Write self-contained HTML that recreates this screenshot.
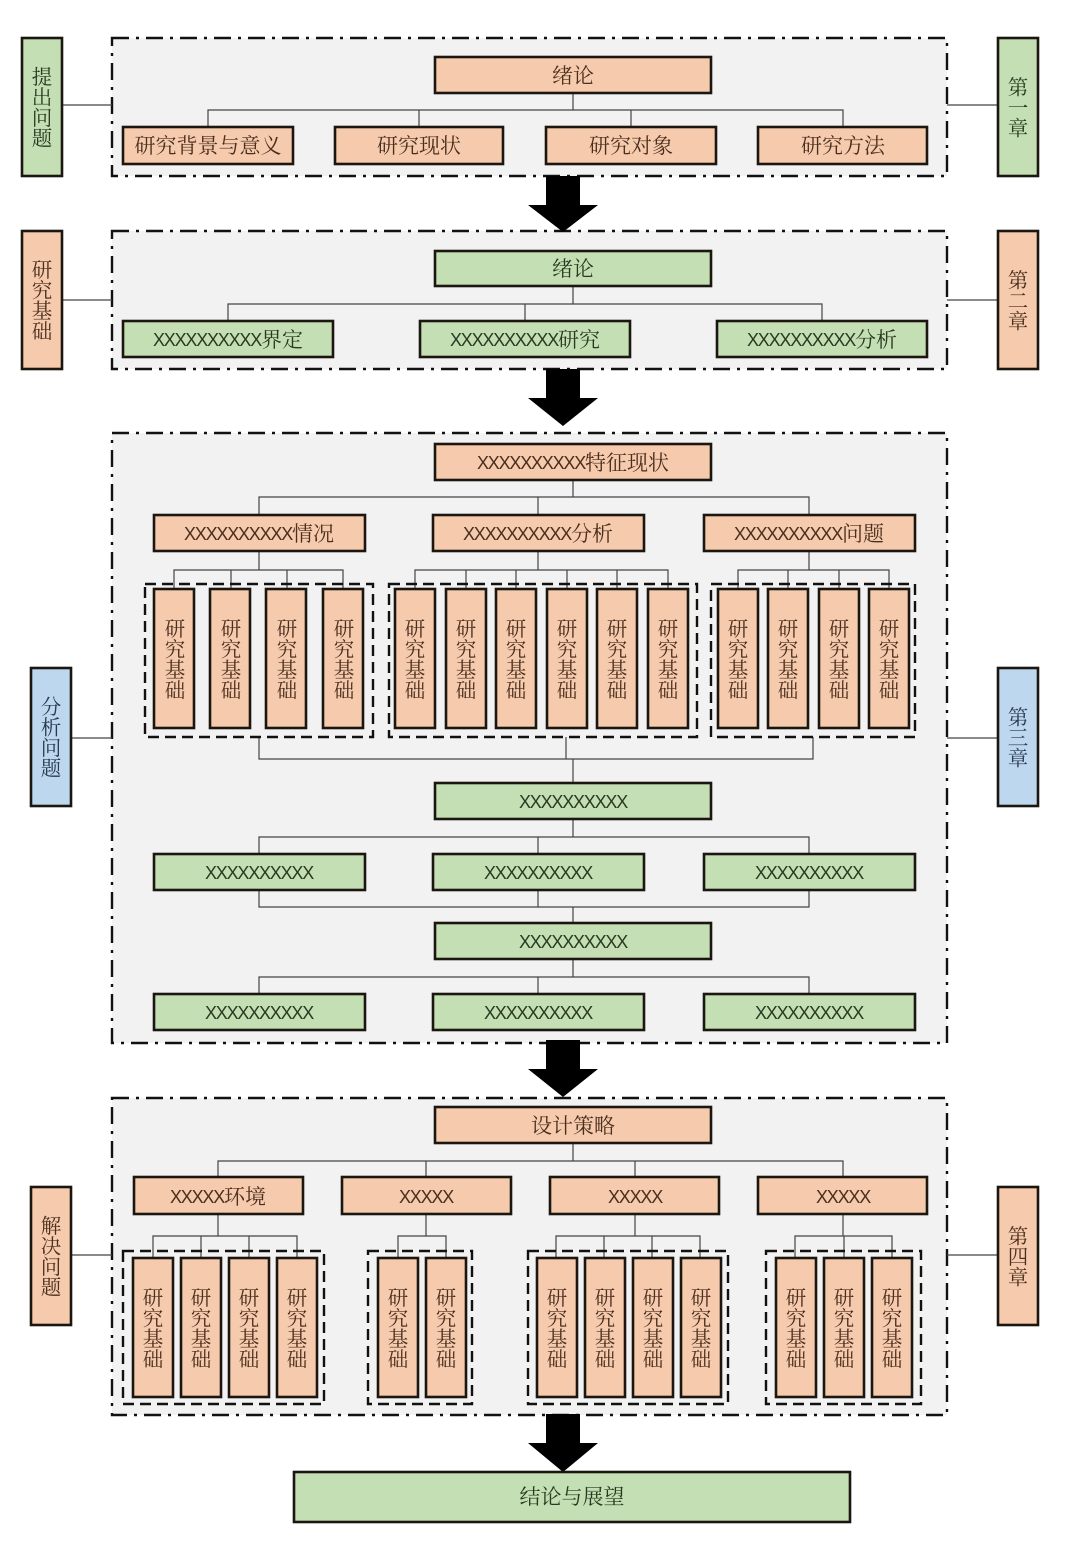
<!DOCTYPE html>
<html lang="zh"><head><meta charset="utf-8"><style>
html,body{margin:0;padding:0;background:#fff}
svg{display:block;filter:blur(.35px)}
text{font-family:"Liberation Serif","Noto Serif CJK SC",serif;font-size:21px;text-anchor:middle;dominant-baseline:central;transform:translateY(.8px)}
.tO{fill:#4a2e1e}.tG{fill:#2a3a22}.tB{fill:#2a3a50}
.xx{font-family:"Liberation Sans",sans-serif;font-size:18px;letter-spacing:-1.2px}
.v{writing-mode:vertical-rl;font-size:20.5px;transform:translateX(-3px)}
.p{fill:#f2f2f2;stroke:#111;stroke-width:2.4;stroke-dasharray:17 7 3 7}
.d{fill:none;stroke:#111;stroke-width:2.4;stroke-dasharray:11 6}
.o,.g,.b{stroke:#1c1610;stroke-width:2.6}
.o{fill:#f6caac}.g{fill:#c4dfb3}.b{fill:#bdd7ee}
.l{fill:none;stroke:#444;stroke-width:1.2}
</style></head><body>
<svg width="1080" height="1559" viewBox="0 0 1080 1559" xmlns="http://www.w3.org/2000/svg">
<rect width="1080" height="1559" fill="#fff"/>

<!-- panels -->
<rect class="p" x="112" y="38" width="835" height="138"/>
<rect class="p" x="112" y="231" width="835" height="138"/>
<rect class="p" x="112" y="433" width="835" height="610"/>
<rect class="p" x="112" y="1098" width="835" height="317"/>

<!-- connectors -->
<path class="l" d="M62 105H112M947 105H998M62 300H112M947 300H998M71 738H112M947 738H998M71 1255H112M947 1255H998"/>
<path class="l" d="M573 93V110M208 127V110H843V127M419 110V127M631 110V127"/>
<path class="l" d="M573 286V304M228 321V304H822V321M525 304V321"/>
<path class="l" d="M573 480V497M259 515V497H809V515M538 497V515"/>
<path class="l" d="M259 551V570M174 589V570H343V589M231 570V589M287 570V589"/>
<path class="l" d="M538 551V570M415 589V570H668V589M466 570V589M516 570V589M567 570V589M617 570V589"/>
<path class="l" d="M809 551V570M738 589V570H889V589M788 570V589M839 570V589"/>
<path class="l" d="M259 737V759H813V737M566 737V759M573 759V783"/>
<path class="l" d="M573 819V837M259 854V837H809V854M538 837V854"/>
<path class="l" d="M259 890V907H809V890M538 890V907M573 907V923"/>
<path class="l" d="M573 959V977M259 994V977H809V994M538 977V994"/>
<path class="l" d="M573 1143V1161M218 1177V1161H843V1177M426 1161V1177M635 1161V1177"/>
<path class="l" d="M218 1214V1236M153 1258V1236H297V1258M201 1236V1258M249 1236V1258"/>
<path class="l" d="M426 1214V1236M398 1258V1236H446V1258"/>
<path class="l" d="M635 1214V1236M556 1258V1236H700V1258M604 1236V1258M652 1236V1258"/>
<path class="l" d="M843 1214V1236M795 1258V1236H892V1258M844 1236V1258"/>

<!-- dashed groups -->
<rect class="d" x="145" y="584" width="228" height="153"/>
<rect class="d" x="389" y="584" width="308" height="153"/>
<rect class="d" x="711" y="584" width="204" height="153"/>
<rect class="d" x="123" y="1251" width="201" height="153"/>
<rect class="d" x="368" y="1251" width="104" height="153"/>
<rect class="d" x="528" y="1251" width="200" height="153"/>
<rect class="d" x="766" y="1251" width="155" height="153"/>

<!-- arrows -->
<path fill="#000" d="M546 176H580V205H598L563 232L528 205H546Z"/>
<path fill="#000" d="M546 369H580V398H598L563 426L528 398H546Z"/>
<path fill="#000" d="M546 1040H580V1069H598L563 1097L528 1069H546Z"/>
<path fill="#000" d="M546 1414H580V1443H598L563 1472L528 1443H546Z"/>

<!-- side boxes -->
<rect class="g" x="22" y="38" width="40" height="138"/><text class="v tG" x="42" y="107">提出问题</text>
<rect class="o" x="22" y="231" width="40" height="138"/><text class="v tO" x="42" y="300">研究基础</text>
<rect class="b" x="31" y="668" width="40" height="138"/><text class="v tB" x="51" y="737">分析问题</text>
<rect class="o" x="31" y="1187" width="40" height="138"/><text class="v tO" x="51" y="1256">解决问题</text>
<rect class="g" x="998" y="38" width="40" height="138"/><text class="v tG" x="1018" y="107">第一章</text>
<rect class="o" x="998" y="231" width="40" height="138"/><text class="v tO" x="1018" y="300">第二章</text>
<rect class="b" x="998" y="668" width="40" height="138"/><text class="v tB" x="1018" y="737">第三章</text>
<rect class="o" x="998" y="1187" width="40" height="138"/><text class="v tO" x="1018" y="1256">第四章</text>

<!-- panel 1 -->
<rect class="o" x="435" y="57" width="276" height="36"/><text class="tO" x="573" y="75">绪论</text>
<rect class="o" x="123" y="127" width="170" height="37"/><text class="tO" x="208" y="145">研究背景与意义</text>
<rect class="o" x="335" y="127" width="168" height="37"/><text class="tO" x="419" y="145">研究现状</text>
<rect class="o" x="546" y="127" width="170" height="37"/><text class="tO" x="631" y="145">研究对象</text>
<rect class="o" x="758" y="127" width="169" height="37"/><text class="tO" x="843" y="145">研究方法</text>

<!-- panel 2 -->
<rect class="g" x="435" y="251" width="276" height="35"/><text class="tG" x="573" y="268">绪论</text>
<rect class="g" x="123" y="321" width="210" height="36"/><text class="tG" x="228" y="339"><tspan class="xx">XXXXXXXXXX</tspan>界定</text>
<rect class="g" x="420" y="321" width="210" height="36"/><text class="tG" x="525" y="339"><tspan class="xx">XXXXXXXXXX</tspan>研究</text>
<rect class="g" x="717" y="321" width="210" height="36"/><text class="tG" x="822" y="339"><tspan class="xx">XXXXXXXXXX</tspan>分析</text>

<!-- panel 3 -->
<rect class="o" x="435" y="444" width="276" height="36"/><text class="tO" x="573" y="462"><tspan class="xx">XXXXXXXXXX</tspan>特征现状</text>
<rect class="o" x="154" y="515" width="211" height="36"/><text class="tO" x="259" y="533"><tspan class="xx">XXXXXXXXXX</tspan>情况</text>
<rect class="o" x="433" y="515" width="211" height="36"/><text class="tO" x="538" y="533"><tspan class="xx">XXXXXXXXXX</tspan>分析</text>
<rect class="o" x="704" y="515" width="211" height="36"/><text class="tO" x="809" y="533"><tspan class="xx">XXXXXXXXXX</tspan>问题</text>

<rect class="o" x="154" y="589" width="40" height="139"/><text class="v tO" x="175" y="659">研究基础</text>
<rect class="o" x="210" y="589" width="40" height="139"/><text class="v tO" x="231" y="659">研究基础</text>
<rect class="o" x="266" y="589" width="40" height="139"/><text class="v tO" x="287" y="659">研究基础</text>
<rect class="o" x="323" y="589" width="40" height="139"/><text class="v tO" x="344" y="659">研究基础</text>
<rect class="o" x="395" y="589" width="40" height="139"/><text class="v tO" x="415" y="659">研究基础</text>
<rect class="o" x="446" y="589" width="40" height="139"/><text class="v tO" x="466" y="659">研究基础</text>
<rect class="o" x="496" y="589" width="40" height="139"/><text class="v tO" x="516" y="659">研究基础</text>
<rect class="o" x="547" y="589" width="40" height="139"/><text class="v tO" x="567" y="659">研究基础</text>
<rect class="o" x="597" y="589" width="40" height="139"/><text class="v tO" x="617" y="659">研究基础</text>
<rect class="o" x="648" y="589" width="40" height="139"/><text class="v tO" x="668" y="659">研究基础</text>
<rect class="o" x="718" y="589" width="40" height="139"/><text class="v tO" x="738" y="659">研究基础</text>
<rect class="o" x="768" y="589" width="40" height="139"/><text class="v tO" x="788" y="659">研究基础</text>
<rect class="o" x="819" y="589" width="40" height="139"/><text class="v tO" x="839" y="659">研究基础</text>
<rect class="o" x="869" y="589" width="40" height="139"/><text class="v tO" x="889" y="659">研究基础</text>

<rect class="g" x="435" y="783" width="276" height="36"/><text class="tG" x="573" y="801"><tspan class="xx">XXXXXXXXXX</tspan></text>
<rect class="g" x="154" y="854" width="211" height="36"/><text class="tG" x="259" y="872"><tspan class="xx">XXXXXXXXXX</tspan></text>
<rect class="g" x="433" y="854" width="211" height="36"/><text class="tG" x="538" y="872"><tspan class="xx">XXXXXXXXXX</tspan></text>
<rect class="g" x="704" y="854" width="211" height="36"/><text class="tG" x="809" y="872"><tspan class="xx">XXXXXXXXXX</tspan></text>
<rect class="g" x="435" y="923" width="276" height="36"/><text class="tG" x="573" y="941"><tspan class="xx">XXXXXXXXXX</tspan></text>
<rect class="g" x="154" y="994" width="211" height="36"/><text class="tG" x="259" y="1012"><tspan class="xx">XXXXXXXXXX</tspan></text>
<rect class="g" x="433" y="994" width="211" height="36"/><text class="tG" x="538" y="1012"><tspan class="xx">XXXXXXXXXX</tspan></text>
<rect class="g" x="704" y="994" width="211" height="36"/><text class="tG" x="809" y="1012"><tspan class="xx">XXXXXXXXXX</tspan></text>

<!-- panel 4 -->
<rect class="o" x="435" y="1107" width="276" height="36"/><text class="tO" x="573" y="1125">设计策略</text>
<rect class="o" x="134" y="1177" width="169" height="37"/><text class="tO" x="218" y="1196"><tspan class="xx">XXXXX</tspan>环境</text>
<rect class="o" x="342" y="1177" width="169" height="37"/><text class="tO" x="426" y="1196"><tspan class="xx">XXXXX</tspan></text>
<rect class="o" x="550" y="1177" width="169" height="37"/><text class="tO" x="635" y="1196"><tspan class="xx">XXXXX</tspan></text>
<rect class="o" x="758" y="1177" width="169" height="37"/><text class="tO" x="843" y="1196"><tspan class="xx">XXXXX</tspan></text>

<rect class="o" x="133" y="1258" width="40" height="139"/><text class="v tO" x="153" y="1328">研究基础</text>
<rect class="o" x="181" y="1258" width="40" height="139"/><text class="v tO" x="201" y="1328">研究基础</text>
<rect class="o" x="229" y="1258" width="40" height="139"/><text class="v tO" x="249" y="1328">研究基础</text>
<rect class="o" x="277" y="1258" width="40" height="139"/><text class="v tO" x="297" y="1328">研究基础</text>
<rect class="o" x="378" y="1258" width="40" height="139"/><text class="v tO" x="398" y="1328">研究基础</text>
<rect class="o" x="426" y="1258" width="40" height="139"/><text class="v tO" x="446" y="1328">研究基础</text>
<rect class="o" x="537" y="1258" width="40" height="139"/><text class="v tO" x="557" y="1328">研究基础</text>
<rect class="o" x="585" y="1258" width="40" height="139"/><text class="v tO" x="605" y="1328">研究基础</text>
<rect class="o" x="633" y="1258" width="40" height="139"/><text class="v tO" x="653" y="1328">研究基础</text>
<rect class="o" x="681" y="1258" width="40" height="139"/><text class="v tO" x="701" y="1328">研究基础</text>
<rect class="o" x="776" y="1258" width="40" height="139"/><text class="v tO" x="796" y="1328">研究基础</text>
<rect class="o" x="824" y="1258" width="40" height="139"/><text class="v tO" x="844" y="1328">研究基础</text>
<rect class="o" x="872" y="1258" width="40" height="139"/><text class="v tO" x="892" y="1328">研究基础</text>

<!-- bottom -->
<rect class="g" x="294" y="1472" width="556" height="50"/><text class="tG" x="572" y="1496">结论与展望</text>
</svg>
</body></html>
